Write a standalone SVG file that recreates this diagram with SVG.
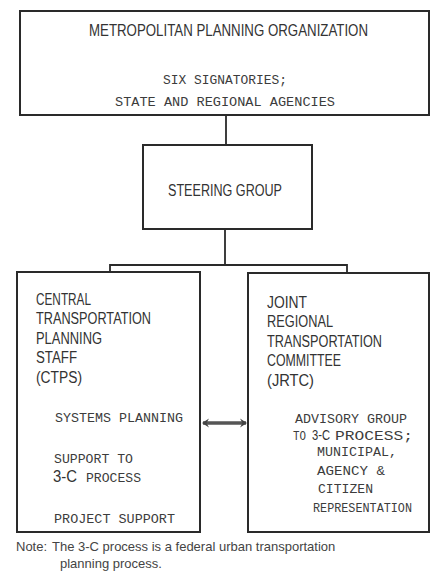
<svg xmlns="http://www.w3.org/2000/svg" width="431" height="574" viewBox="0 0 431 574">
<style>
.box{fill:none;stroke:#2a2a2a;stroke-width:2}
.ln{fill:none;stroke:#2a2a2a;stroke-width:1.8}
.t{font-family:"Liberation Sans",Arial,sans-serif;fill:#333}
.big{font-size:16px}
.sm{font-family:"Liberation Mono","DejaVu Sans Mono",monospace;font-size:12px;fill:#3c3c3c}
.note{font-family:"Liberation Sans",Arial,sans-serif;font-size:13px;fill:#444}
</style>
<defs>
<marker id="ah" markerWidth="10" markerHeight="10" refX="7" refY="5" orient="auto-start-reverse" markerUnits="userSpaceOnUse">
<path d="M1,0.5 L8,5 L1,9.5 L3.5,5 Z" fill="#444"/>
</marker>
</defs>
<rect width="431" height="574" fill="#fff"/>
<g id="connectors">
<line class="ln" x1="226" y1="115" x2="226" y2="145"/>
<polyline class="ln" points="225,229 225,265"/>
<polyline class="ln" points="110,272 110,265 347,265 347,273"/>
<line x1="203" y1="423" x2="246" y2="423" stroke="#555" stroke-width="3.5" marker-start="url(#ah)" marker-end="url(#ah)"/>
</g>
<g id="mpo">
<rect class="box" x="20" y="11" width="409" height="104"/>
<text class="t big" x="89" y="36" textLength="279" lengthAdjust="spacingAndGlyphs">METROPOLITAN PLANNING ORGANIZATION</text>
<text class="t sm" x="163" y="84" textLength="124" lengthAdjust="spacingAndGlyphs">SIX SIGNATORIES;</text>
<text class="t sm" x="115" y="106" textLength="220" lengthAdjust="spacingAndGlyphs">STATE AND REGIONAL AGENCIES</text>
</g>
<g id="steering">
<rect class="box" x="143" y="145" width="169" height="84"/>
<text class="t big" x="168" y="196" textLength="114" lengthAdjust="spacingAndGlyphs">STEERING GROUP</text>
</g>
<g id="ctps">
<rect class="box" x="17" y="272" width="183" height="260"/>
<text class="t big" x="36" y="305" textLength="55" lengthAdjust="spacingAndGlyphs">CENTRAL</text>
<text class="t big" x="36" y="324" textLength="115" lengthAdjust="spacingAndGlyphs">TRANSPORTATION</text>
<text class="t big" x="36" y="344" textLength="66" lengthAdjust="spacingAndGlyphs">PLANNING</text>
<text class="t big" x="36" y="363" textLength="41" lengthAdjust="spacingAndGlyphs">STAFF</text>
<text class="t big" x="36" y="383" textLength="46" lengthAdjust="spacingAndGlyphs">(CTPS)</text>
<text class="t sm" x="55" y="422" textLength="128" lengthAdjust="spacingAndGlyphs">SYSTEMS PLANNING</text>
<text class="t sm" x="54" y="463" textLength="79" lengthAdjust="spacingAndGlyphs">SUPPORT TO</text>
<text class="t big" x="53" y="482" textLength="24" lengthAdjust="spacingAndGlyphs">3-C</text>
<text class="t sm" x="86" y="482" textLength="55" lengthAdjust="spacingAndGlyphs">PROCESS</text>
<text class="t sm" x="54" y="523" textLength="121" lengthAdjust="spacingAndGlyphs">PROJECT SUPPORT</text>
</g>
<g id="jrtc">
<rect class="box" x="248" y="273" width="181" height="259"/>
<text class="t big" x="267" y="308" textLength="40" lengthAdjust="spacingAndGlyphs">JOINT</text>
<text class="t big" x="267" y="327" textLength="66" lengthAdjust="spacingAndGlyphs">REGIONAL</text>
<text class="t big" x="267" y="347" textLength="115" lengthAdjust="spacingAndGlyphs">TRANSPORTATION</text>
<text class="t big" x="267" y="366" textLength="74" lengthAdjust="spacingAndGlyphs">COMMITTEE</text>
<text class="t big" x="267" y="386" textLength="47" lengthAdjust="spacingAndGlyphs">(JRTC)</text>
<text class="t sm" x="295" y="423" textLength="112" lengthAdjust="spacingAndGlyphs">ADVISORY GROUP</text>
<text class="t sm" x="293" y="440" font-size="11" textLength="13" lengthAdjust="spacingAndGlyphs">TO</text>
<text class="t" x="312" y="440" font-size="14" textLength="18" lengthAdjust="spacingAndGlyphs">3-C</text>
<text class="t sm" x="335" y="440" textLength="78" lengthAdjust="spacingAndGlyphs">PROCESS;</text>
<text class="t sm" x="317" y="456" textLength="80" lengthAdjust="spacingAndGlyphs">MUNICIPAL,</text>
<text class="t sm" x="317" y="475" textLength="68" lengthAdjust="spacingAndGlyphs">AGENCY &amp;</text>
<text class="t sm" x="318" y="493" textLength="55" lengthAdjust="spacingAndGlyphs">CITIZEN</text>
<text class="t sm" x="313" y="512" textLength="99" lengthAdjust="spacingAndGlyphs">REPRESENTATION</text>
</g>
<g id="note">
<text class="note" x="16" y="551">Note:<tspan x="52">The 3-C process is a federal urban transportation</tspan></text>
<text class="note" x="60" y="568">planning process.</text>
</g>
</svg>
